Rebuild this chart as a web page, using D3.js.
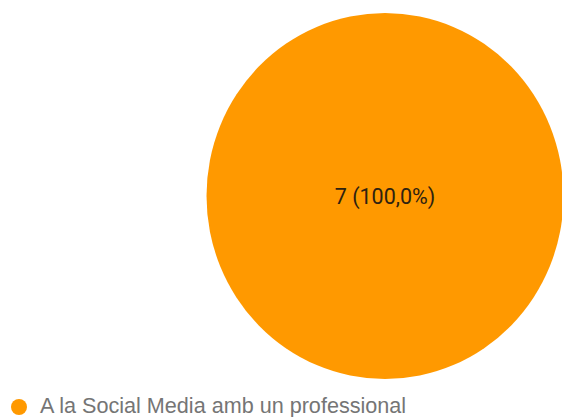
<!DOCTYPE html>
<html>
<head>
<meta charset="utf-8">
<script src="https://cdn.jsdelivr.net/npm/d3@7"></script>
<style>
  html, body { margin: 0; padding: 0; background: #fff; }
  svg { display: block; }
</style>
</head>
<body>
<svg id="chart" width="562" height="417"></svg>
<script>
const categories = ["A la Social Media amb un professional"];
const counts = [7];
const colors = ["#ff9900"];

const svg = d3.select("#chart");
const total = d3.sum(counts);

const pie = d3.pie().sort(null).value(d => d)(counts);
const arc = d3.arc().innerRadius(0).outerRadius(1);

// pie is drawn in a unit circle and stretched to its on-screen size
const g = svg.append("g").attr("transform", "translate(385,196)");
g.append("g").attr("transform", "scale(178.5,183)")
  .selectAll("path")
  .data(pie)
  .join("path")
  .attr("d", arc)
  .attr("fill", (d, i) => colors[i]);

const fmt = v => d3.format(".1f")(v).replace(".", ",");
g.selectAll("text.val")
  .data(pie)
  .join("text")
  .attr("class", "val")
  .attr("x", d => (d.endAngle - d.startAngle >= 2 * Math.PI - 1e-6) ? 0 : arc.centroid(d)[0] * 178 * 0.6)
  .attr("y", d => (d.endAngle - d.startAngle >= 2 * Math.PI - 1e-6) ? 0 : arc.centroid(d)[1] * 183 * 0.6)
  .attr("text-anchor", "middle")
  .attr("dominant-baseline", "central")
  .attr("font-family", "Roboto, sans-serif")
  .attr("font-size", 21.5)
  .attr("fill", "#2e2210")
  .text(d => `${d.data} (${fmt(d.data / total * 100)}%)`);

// legend
const legend = svg.append("g").attr("transform", "translate(19,407)");
const item = legend.selectAll("g").data(categories).join("g")
  .attr("transform", (d, i) => `translate(0,${i * 22})`);
item.append("circle").attr("r", 8).attr("fill", (d, i) => colors[i]);
item.append("text")
  .attr("x", 21)
  .attr("y", -1.5)
  .attr("dominant-baseline", "central")
  .attr("font-family", "'Liberation Sans', Arial, sans-serif")
  .attr("font-size", 21.6)
  .attr("fill", "#757575")
  .text(d => d);
</script>
</body>
</html>
